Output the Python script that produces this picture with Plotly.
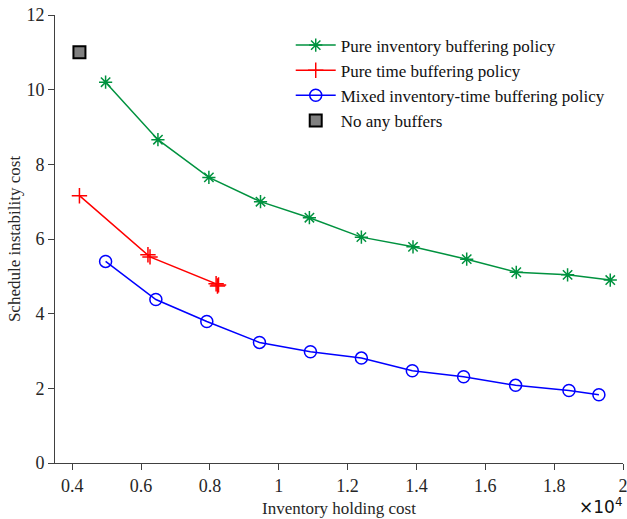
import plotly.graph_objects as go

# Data (x in units of 1e4)
inv_x = [0.497, 0.649, 0.797, 0.947, 1.089, 1.240, 1.390, 1.546, 1.690, 1.839, 1.963]
inv_y = [10.20, 8.66, 7.65, 7.00, 6.57, 6.05, 5.79, 5.46, 5.11, 5.04, 4.90]

time_x = [0.421, 0.620, 0.626, 0.818, 0.822, 0.825]
time_y = [7.16, 5.58, 5.52, 4.80, 4.74, 4.77]

mix_x = [0.497, 0.643, 0.791, 0.944, 1.092, 1.240, 1.388, 1.537, 1.688, 1.843, 1.930]
mix_y = [5.40, 4.38, 3.79, 3.23, 2.98, 2.81, 2.47, 2.31, 2.08, 1.94, 1.83]

nobuf_x = [0.421]
nobuf_y = [11.0]

x_ticks = [0.4, 0.6, 0.8, 1.0, 1.2, 1.4, 1.6, 1.8, 2.0]
x_tick_labels = ["0.4", "0.6", "0.8", "1", "1.2", "1.4", "1.6", "1.8", "2"]
y_ticks = [0, 2, 4, 6, 8, 10, 12]

GREEN = "#00923f"
RED = "#ff0000"
BLUE = "#0000ff"
FONT = "Liberation Serif"
TXT = "#262626"
FS = 17

fig = go.Figure()
fig.add_trace(go.Scatter(
    x=inv_x, y=inv_y, mode="lines+markers", name="Pure inventory buffering policy",
    line=dict(color=GREEN, width=1.5),
    marker=dict(symbol="asterisk-open", size=11, color=GREEN, line=dict(color=GREEN, width=1.5))))
fig.add_trace(go.Scatter(
    x=time_x, y=time_y, mode="lines+markers", name="Pure time buffering policy",
    line=dict(color=RED, width=1.5),
    marker=dict(symbol="cross-thin-open", size=11, color=RED, line=dict(color=RED, width=1.5))))
fig.add_trace(go.Scatter(
    x=mix_x, y=mix_y, mode="lines+markers", name="Mixed inventory-time buffering policy",
    line=dict(color=BLUE, width=1.5),
    marker=dict(symbol="circle-open", size=12, color=BLUE, line=dict(color=BLUE, width=1.5))))
fig.add_trace(go.Scatter(
    x=nobuf_x, y=nobuf_y, mode="markers", name="No any buffers",
    marker=dict(symbol="square", size=12, color="#808080", line=dict(color="#000000", width=2))))

axis_common = dict(
    showgrid=False, zeroline=False, showline=True, linecolor="#404040", linewidth=1,
    ticks="outside", ticklen=6, tickcolor="#404040", mirror=False, automargin=False,
    ticklabeloverflow="allow",
    tickfont=dict(family=FONT, size=FS + 1, color=TXT),
)

fig.update_layout(
    width=627, height=519,
    margin=dict(l=55, r=4, t=15, b=56),
    plot_bgcolor="white", paper_bgcolor="white",
    font=dict(family=FONT, size=FS, color=TXT),
    xaxis=dict(range=[0.35, 2.0], tickvals=x_ticks, ticktext=x_tick_labels,
               title=dict(text="Inventory holding cost", font=dict(family=FONT, size=FS, color=TXT), standoff=7),
               **axis_common),
    yaxis=dict(range=[0, 12], tickvals=y_ticks,
               title=dict(text="Schedule instability cost", font=dict(family=FONT, size=FS, color=TXT), standoff=1),
               **axis_common),
    legend=dict(x=0.415, y=0.972, xanchor="left", yanchor="top", bgcolor="rgba(0,0,0,0)",
                font=dict(family=FONT, size=FS, color="#111111"), tracegroupgap=0, itemwidth=40),
    showlegend=True,
    annotations=[dict(text="×10<sup>4</sup>", xref="paper", yref="paper", x=1.002, y=-0.126,
                      xanchor="right", yanchor="bottom", showarrow=False,
                      font=dict(family="DejaVu Sans", size=17, color="#111111"))],
)

fig.write_html("out.html")
